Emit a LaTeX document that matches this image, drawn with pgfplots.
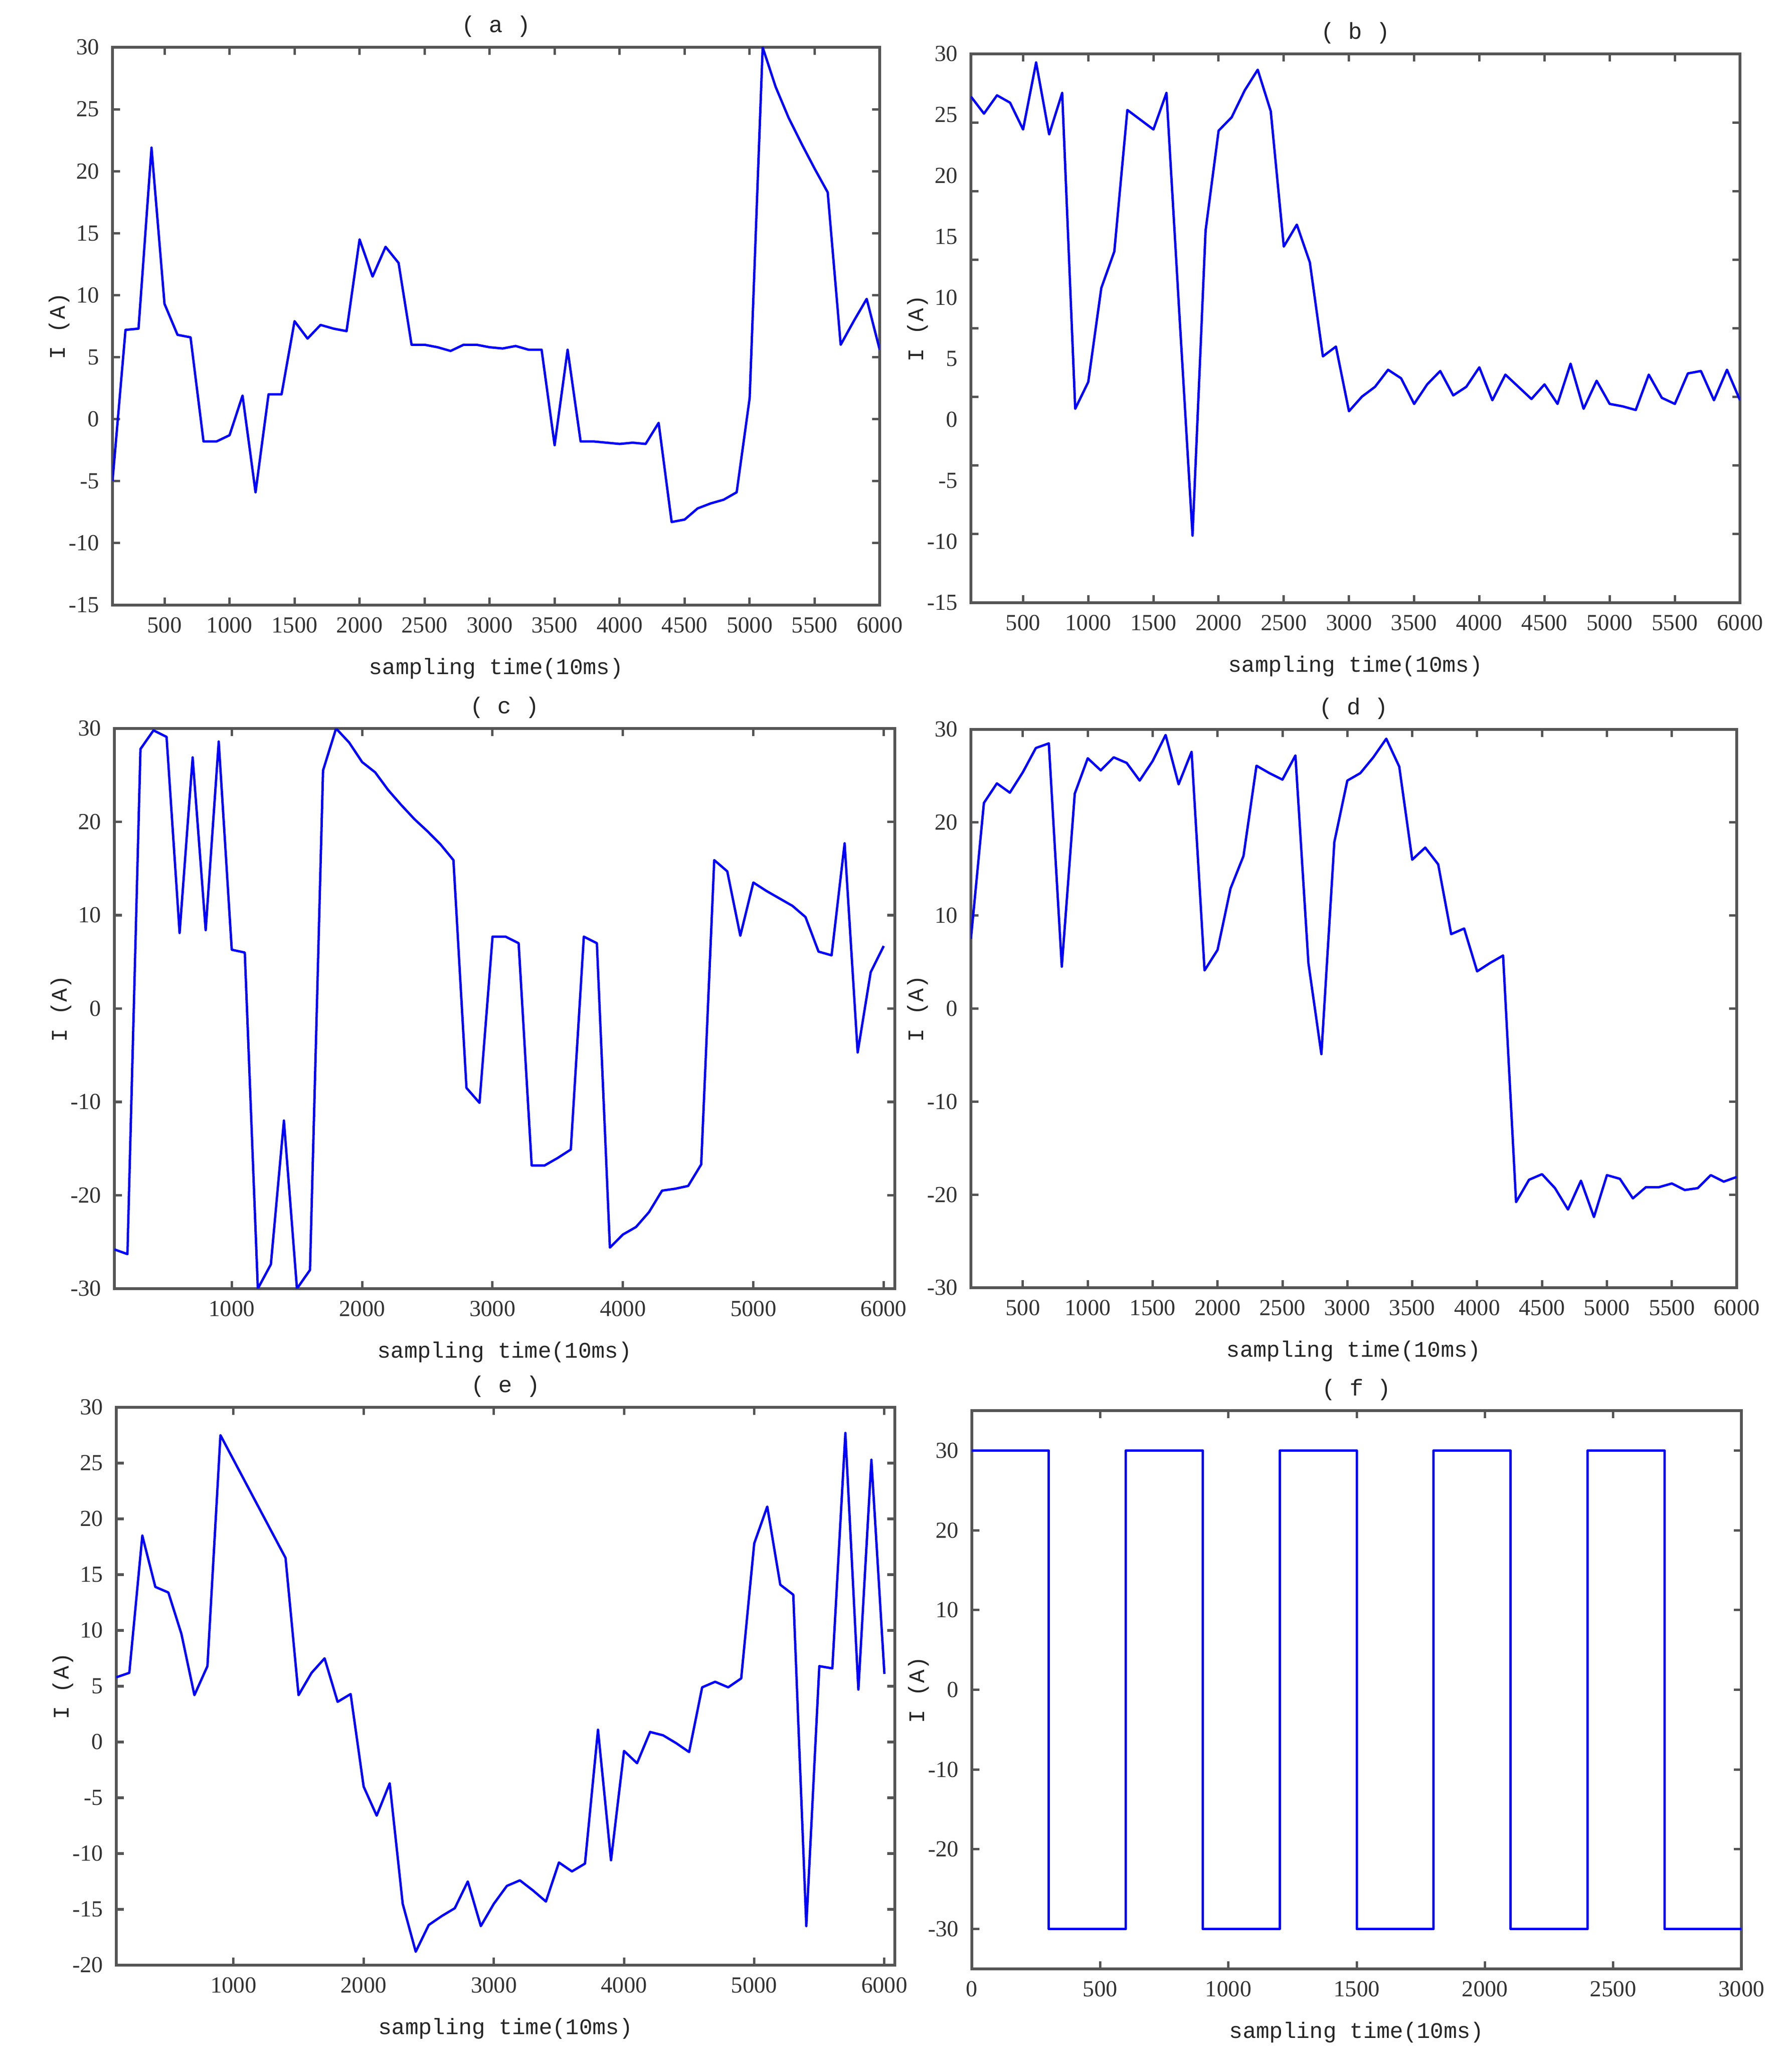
\documentclass[border=0pt]{standalone}
\usepackage{fontspec}
\setmainfont{Liberation Serif}
\newfontfamily\monof{Liberation Mono}
\usepackage{pgfplots}
\usepackage{pgfplotstable}
\pgfplotsset{compat=1.18}

\definecolor{frame}{RGB}{85,85,85}
\definecolor{curve}{RGB}{65,65,205}

% sampled current, one row per 100 samples
\pgfplotstableread{
x y
100 -5
200 7.2
300 7.3
400 21.9
500 9.3
600 6.8
700 6.6
800 -1.8
900 -1.8
1000 -1.3
1100 1.9
1200 -5.9
1300 2.0
1400 2.0
1500 7.9
1600 6.5
1700 7.6
1800 7.3
1900 7.1
2000 14.5
2100 11.5
2200 13.9
2300 12.6
2400 6.0
2500 6.0
2600 5.8
2700 5.5
2800 6.0
2900 6.0
3000 5.8
3100 5.7
3200 5.9
3300 5.6
3400 5.6
3500 -2.1
3600 5.6
3700 -1.8
3800 -1.8
3900 -1.9
4000 -2.0
4100 -1.9
4200 -2.0
4300 -0.3
4400 -8.3
4500 -8.1
4600 -7.2
4700 -6.8
4800 -6.5
4900 -5.9
5000 1.7
5100 30
5200 26.8
5300 24.3
5400 22.2
5500 20.2
5600 18.3
5700 6.0
5800 7.9
5900 9.7
6000 5.6
}\dataA

\pgfplotstableread{
x y
100 26.5
200 25.1
300 26.6
400 26.0
500 23.8
600 29.3
700 23.4
800 26.8
900 0.9
1000 3.1
1100 10.8
1200 13.8
1300 25.4
1400 24.6
1500 23.8
1600 26.8
1700 8.5
1800 -9.5
1900 15.5
2000 23.7
2100 24.8
2200 27.0
2300 28.7
2400 25.3
2500 14.2
2600 16.0
2700 12.9
2800 5.2
2900 6.0
3000 0.7
3100 1.9
3200 2.7
3300 4.1
3400 3.4
3500 1.3
3600 2.9
3700 4.0
3800 2.0
3900 2.7
4000 4.3
4100 1.6
4200 3.7
4300 2.7
4400 1.7
4500 2.9
4600 1.3
4700 4.6
4800 0.9
4900 3.2
5000 1.3
5100 1.1
5200 0.8
5300 3.7
5400 1.8
5500 1.3
5600 3.8
5700 4.0
5800 1.6
5900 4.1
6000 1.6
}\dataB

\pgfplotstableread{
x y
100 -25.8
200 -26.3
300 27.8
400 29.8
500 29.1
600 8.1
700 26.9
800 8.4
900 28.6
1000 6.3
1100 6.0
1200 -30
1300 -27.4
1400 -12
1500 -30
1600 -28
1700 25.5
1800 30
1900 28.5
2000 26.4
2100 25.3
2200 23.4
2300 21.8
2400 20.3
2500 19.0
2600 17.6
2700 15.9
2800 -8.5
2900 -10.1
3000 7.7
3100 7.7
3200 7.0
3300 -16.8
3400 -16.8
3500 -16.0
3600 -15.1
3700 7.7
3800 7.0
3900 -25.6
4000 -24.2
4100 -23.4
4200 -21.8
4300 -19.5
4400 -19.3
4500 -19.0
4600 -16.7
4700 15.9
4800 14.7
4900 7.8
5000 13.5
5100 12.6
5200 11.8
5300 11.0
5400 9.8
5500 6.1
5600 5.7
5700 17.7
5800 -4.7
5900 3.9
6000 6.7
}\dataC

\pgfplotstableread{
x y
100 7.5
200 22.1
300 24.2
400 23.2
500 25.4
600 28.0
700 28.5
800 4.5
900 23.1
1000 26.9
1100 25.6
1200 27.0
1300 26.4
1400 24.5
1500 26.6
1600 29.4
1700 24.1
1800 27.6
1900 4.1
2000 6.3
2100 12.9
2200 16.4
2300 26.1
2400 25.3
2500 24.6
2600 27.2
2700 4.9
2800 -4.9
2900 17.9
3000 24.5
3100 25.3
3200 27.0
3300 29.0
3400 26.0
3500 16.0
3600 17.3
3700 15.5
3800 8.0
3900 8.6
4000 4.0
4100 4.9
4200 5.7
4300 -20.8
4400 -18.4
4500 -17.8
4600 -19.3
4700 -21.6
4800 -18.5
4900 -22.4
5000 -17.9
5100 -18.3
5200 -20.4
5300 -19.2
5400 -19.2
5500 -18.8
5600 -19.5
5700 -19.3
5800 -17.9
5900 -18.6
6000 -18.1
}\dataD

\pgfplotstableread{
x y
100 5.8
200 6.2
300 18.5
400 13.9
500 13.4
600 9.7
700 4.2
800 6.8
900 27.5
1000 25.3
1100 23.1
1200 20.9
1300 18.7
1400 16.5
1500 4.2
1600 6.2
1700 7.5
1800 3.6
1900 4.3
2000 -4.0
2100 -6.6
2200 -3.7
2300 -14.5
2400 -18.8
2500 -16.4
2600 -15.6
2700 -14.9
2800 -12.5
2900 -16.5
3000 -14.5
3100 -12.9
3200 -12.4
3300 -13.3
3400 -14.3
3500 -10.8
3600 -11.6
3700 -10.9
3800 1.1
3900 -10.6
4000 -0.8
4100 -1.9
4200 0.9
4300 0.6
4400 -0.1
4500 -0.9
4600 4.9
4700 5.4
4800 4.9
4900 5.7
5000 17.8
5100 21.1
5200 14.1
5300 13.2
5400 -16.5
5500 6.8
5600 6.6
5700 27.7
5800 4.7
5900 25.3
6000 6.1
}\dataE

% one unit = one pixel of the original figure
\def\u{0.07mm}

\pgfplotsset{
  panel/.style={
    scale only axis, anchor=south west, no markers,
    axis line style={frame, line width=1.2pt},
    tick style={frame, line width=1pt},
    tick align=inside, xtick pos=both, ytick pos=both,
    major tick length=1.1mm,
    ticklabel style={font=\fontsize{9.7}{11}\selectfont, text=black!80},
    xticklabel style={yshift=-0.6mm},
    yticklabel style={xshift=-0.7mm},
    /pgf/number format/assume math mode=true,
    /pgf/number format/1000 sep={},
    xlabel={sampling time(10ms)}, ylabel={I (A)},
    label style={font=\monof\fontsize{9.4}{11}\selectfont, text=black!85},
    xlabel style={at={([yshift=-9.4mm]axis description cs:0.5,0)}, anchor=center},
    ylabel style={at={([xshift=-7.9mm]axis description cs:0,0.5)}, anchor=center},
    title style={at={([yshift=3.1mm]axis description cs:0.5,1)}, anchor=center,
      yshift=-6pt, font=\monof\fontsize{9.7}{11}\selectfont, text=black!85},
    every axis plot/.append style={curve, line width=1pt, line join=round},
  },
}

\begin{document}
\begin{tikzpicture}
\path (0,0) rectangle (3791*\u,4345*\u);

% (a)
\begin{axis}[panel, at={(238*\u,3065*\u)},
  width=1623*\u, height=1180*\u,
  xmin=100, xmax=6000, ymin=-15, ymax=30,
  xtick={500,1000,...,6000}, ytick={-15,-10,...,30},
  title={( a )}]
\addplot table[x=x,y=y] {\dataA};
\end{axis}

% (b) tick marks and labels do not line up in the original
\begin{axis}[panel, at={(2054*\u,3070*\u)},
  width=1627*\u, height=1161*\u,
  xmin=100, xmax=6000, ymin=-15, ymax=30,
  xtick={500,1000,...,6000},
  ytick={-9.375,-3.75,1.875,7.5,13.125,18.75,24.375}, yticklabels={},
  extra y ticks={-15,-10,...,30},
  extra y tick style={major tick length=0pt},
  title={( b )}]
\addplot table[x=x,y=y] {\dataB};
\end{axis}

% (c)
\begin{axis}[panel, at={(242*\u,1619*\u)},
  width=1651*\u, height=1185*\u,
  xmin=100, xmax=6085, ymin=-30, ymax=30,
  xtick={1000,2000,...,6000}, ytick={-30,-20,...,30},
  title={( c )}]
\addplot table[x=x,y=y] {\dataC};
\end{axis}

% (d)
\begin{axis}[panel, at={(2054*\u,1621*\u)},
  width=1620*\u, height=1181*\u,
  xmin=100, xmax=6000, ymin=-30, ymax=30,
  xtick={500,1000,...,6000}, ytick={-30,-20,...,30},
  title={( d )}]
\addplot table[x=x,y=y] {\dataD};
\end{axis}

% (e)
\begin{axis}[panel, at={(246*\u,188*\u)},
  width=1647*\u, height=1180*\u,
  xmin=100, xmax=6080, ymin=-20, ymax=30,
  xtick={1000,2000,...,6000}, ytick={-20,-15,...,30},
  title={( e )}]
\addplot table[x=x,y=y] {\dataE};
\end{axis}

% (f) square wave reference
\begin{axis}[panel, at={(2056*\u,180*\u)},
  width=1628*\u, height=1181*\u,
  xmin=0, xmax=3000, ymin=-35, ymax=35,
  xtick={0,500,...,3000}, ytick={-30,-20,...,30},
  title={( f )}]
\addplot coordinates {(0,30) (300,30) (300,-30) (600,-30) (600,30) (900,30)
  (900,-30) (1200,-30) (1200,30) (1500,30) (1500,-30) (1800,-30) (1800,30)
  (2100,30) (2100,-30) (2400,-30) (2400,30) (2700,30) (2700,-30) (3000,-30)};
\end{axis}
\end{tikzpicture}
\end{document}
